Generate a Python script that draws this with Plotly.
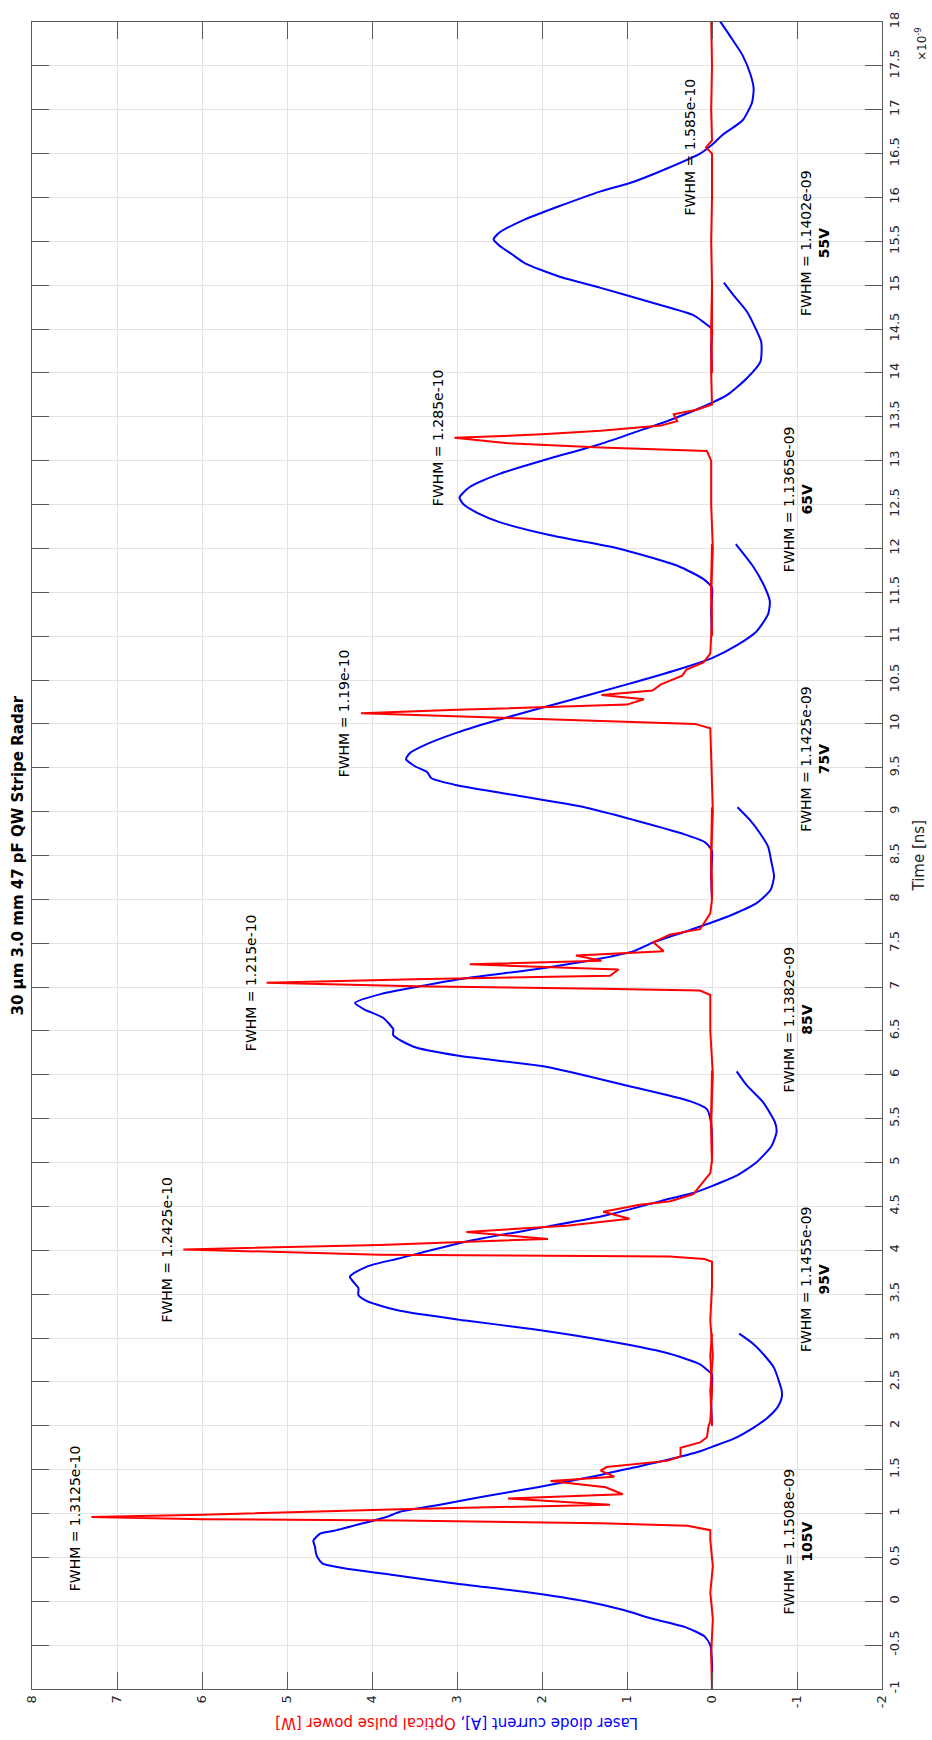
import plotly.graph_objects as go

# ---------------- data (time in ns, value in A / W) ----------------
blue_t_105 = [-1.0, -0.7, -0.5, -0.4, -0.3, -0.2, -0.1, 0.0, 0.1, 0.2, 0.3, 0.38, 0.43, 0.5, 0.55, 0.62, 0.69, 0.77, 0.8, 0.88, 0.96, 1.02, 1.1, 1.2, 1.3, 1.44, 1.525, 1.61, 1.71, 1.76, 1.85, 1.98, 2.09, 2.21, 2.32, 2.40, 2.47, 2.66, 2.81, 2.93, 3.05]
blue_v_105 = [0.0, 0.0, 0.02, 0.09, 0.3, 0.7, 1.04, 1.49, 2.15, 3.0, 3.75, 4.35, 4.58, 4.64, 4.66, 4.67, 4.69, 4.61, 4.46, 4.14, 3.83, 3.67, 3.2, 2.65, 2.05, 1.31, 0.92, 0.53, 0.14, 0.0, -0.25, -0.49, -0.65, -0.77, -0.82, -0.82, -0.80, -0.73, -0.61, -0.49, -0.32]

blue_t_95 = [2.0, 2.3, 2.585, 2.64, 2.70, 2.77, 2.83, 2.98, 3.1, 3.2, 3.31, 3.42, 3.49, 3.57, 3.70, 3.815, 3.91, 4.10, 4.27, 4.40, 4.59, 4.66, 4.74, 4.85, 5.0, 5.19, 5.35, 5.46, 5.69, 5.88, 6.04]
blue_v_95 = [0.0, 0.01, 0.0, 0.06, 0.14, 0.33, 0.53, 1.31, 2.1, 2.9, 3.67, 4.06, 4.16, 4.16, 4.26, 4.06, 3.67, 2.89, 1.94, 1.24, 0.49, 0.2, -0.02, -0.29, -0.52, -0.70, -0.76, -0.74, -0.60, -0.41, -0.29]

blue_t_85 = [5.0, 5.3, 5.5, 5.61, 5.70, 5.87, 6.09, 6.22, 6.32, 6.45, 6.52, 6.65, 6.75, 6.82, 6.92, 7.1, 7.2, 7.325, 7.41, 7.51, 7.64, 7.73, 7.83, 7.96, 8.11, 8.26, 8.42, 8.6, 8.76, 8.9, 9.05]
blue_v_85 = [0.0, 0.0, 0.02, 0.06, 0.26, 0.97, 1.94, 3.0, 3.51, 3.75, 3.75, 3.87, 4.1, 4.2, 3.9, 2.9, 2.1, 1.31, 0.92, 0.69, 0.29, 0.02, -0.25, -0.53, -0.69, -0.73, -0.70, -0.66, -0.56, -0.45, -0.3]

blue_t_75 = [8.0, 8.3, 8.55, 8.65, 8.75, 8.9, 9.05, 9.2, 9.3, 9.38, 9.45, 9.52, 9.6, 9.67, 9.75, 9.9, 10.05, 10.25, 10.45, 10.62, 10.75, 10.9, 11.05, 11.25, 11.4, 11.6, 11.8, 12.05]
blue_v_75 = [0.0, 0.01, 0.0, 0.08, 0.35, 0.9, 1.5, 2.4, 3.0, 3.3, 3.35, 3.5, 3.6, 3.55, 3.4, 3.0, 2.5, 1.75, 1.0, 0.4, 0.0, -0.3, -0.52, -0.66, -0.68, -0.6, -0.48, -0.28]

blue_t_65 = [11.0, 11.3, 11.55, 11.65, 11.8, 12.0, 12.15, 12.3, 12.4, 12.5, 12.58, 12.7, 12.85, 13.0, 13.19, 13.32, 13.45, 13.6, 13.75, 13.94, 14.13, 14.35, 14.47, 14.7, 14.89, 15.03]
blue_v_65 = [0.0, 0.01, 0.0, 0.1, 0.4, 1.1, 1.9, 2.5, 2.75, 2.92, 2.97, 2.85, 2.5, 2.0, 1.31, 0.92, 0.53, 0.14, -0.18, -0.41, -0.57, -0.58, -0.53, -0.41, -0.25, -0.14]

blue_t_55 = [14.0, 14.3, 14.5, 14.55, 14.66, 14.8, 14.97, 15.1, 15.25, 15.35, 15.45, 15.52, 15.6, 15.75, 15.9, 16.07, 16.18, 16.33, 16.5, 16.6, 16.71, 16.88, 17.08, 17.24, 17.41, 17.62, 17.8, 18.0, 18.05]
blue_v_55 = [0.0, 0.01, 0.0, 0.06, 0.22, 0.7, 1.31, 1.8, 2.2, 2.35, 2.5, 2.57, 2.5, 2.2, 1.8, 1.31, 0.92, 0.53, 0.14, 0.0, -0.12, -0.36, -0.47, -0.49, -0.45, -0.36, -0.24, -0.1, -0.05]

red_t_105 = [-1.0, -0.6, -0.2, 0.1, 0.4, 0.7, 0.81, 0.86, 0.89, 0.92, 0.935, 0.96, 0.985, 1.05, 1.1, 1.17, 1.22, 1.3, 1.37, 1.42, 1.49, 1.53, 1.60, 1.65, 1.75, 1.81, 1.87, 2.0, 2.05, 2.4, 2.8, 3.05]
red_v_105 = [0.0, 0.01, -0.01, 0.02, -0.01, 0.02, 0.02, 0.29, 1.31, 3.67, 6.0, 7.3, 6.0, 3.67, 1.2, 2.4, 1.05, 1.25, 1.9, 1.15, 1.31, 1.24, 0.53, 0.37, 0.37, 0.14, 0.06, 0.04, 0.02, 0.0, 0.02, 0.0]

red_t_95 = [2.0, 2.4, 2.8, 3.2, 3.6, 3.87, 3.9, 3.93, 3.95, 4.01, 4.06, 4.13, 4.21, 4.28, 4.36, 4.44, 4.52, 4.56, 4.64, 4.71, 4.88, 5.03, 5.5, 6.05]
red_v_95 = [0.0, 0.02, -0.01, 0.02, 0.0, 0.0, 0.09, 0.5, 3.91, 6.22, 3.91, 1.93, 2.89, 1.71, 0.97, 1.28, 0.85, 0.49, 0.22, 0.16, 0.02, 0.0, 0.01, 0.0]

red_t_85 = [5.0, 5.5, 6.0, 6.5, 6.91, 6.96, 6.98, 7.01, 7.05, 7.09, 7.13, 7.2, 7.26, 7.3, 7.36, 7.41, 7.51, 7.60, 7.66, 7.84, 8.0, 8.5, 9.05]
red_v_85 = [0.0, 0.01, -0.01, 0.02, 0.02, 0.14, 1.31, 3.5, 5.24, 3.5, 1.2, 1.1, 2.85, 1.3, 1.6, 0.57, 0.69, 0.49, 0.14, 0.02, 0.0, 0.01, 0.0]

red_t_75 = [8.0, 8.5, 9.0, 9.5, 9.95, 10.0, 10.04, 10.08, 10.12, 10.16, 10.22, 10.28, 10.33, 10.38, 10.45, 10.55, 10.62, 10.7, 10.8, 11.2, 11.6, 12.05]
red_v_75 = [0.0, 0.01, -0.01, 0.01, 0.02, 0.2, 1.5, 3.0, 4.13, 3.0, 1.0, 0.8, 1.3, 0.7, 0.6, 0.35, 0.3, 0.1, 0.02, 0.0, 0.01, 0.0]

red_t_65 = [11.0, 11.5, 12.0, 12.5, 13.0, 13.11, 13.15, 13.2, 13.26, 13.3, 13.34, 13.4, 13.45, 13.53, 13.58, 13.64, 14.0, 14.5, 15.05]
red_v_65 = [0.0, 0.01, -0.01, 0.01, 0.01, 0.06, 1.31, 2.4, 3.03, 2.0, 1.31, 0.6, 0.41, 0.45, 0.18, 0.0, 0.01, 0.0, 0.0]

red_t_55 = [14.0, 14.5, 15.0, 15.5, 16.0, 16.5, 16.57, 16.65, 17.0, 17.5, 18.05]
red_v_55 = [0.0, 0.01, 0.0, 0.01, 0.0, 0.0, 0.07, 0.0, 0.01, 0.0, 0.01]

# annotation data
red_fwhm_labels = ["FWHM = 1.3125e-10", "FWHM = 1.2425e-10", "FWHM = 1.215e-10", "FWHM = 1.19e-10", "FWHM = 1.285e-10", "FWHM = 1.585e-10"]
red_label_t = [0.95, 4.01, 7.05, 10.12, 13.26, 16.58]
red_label_v = [7.49, 6.41, 5.43, 4.33, 3.22, 0.26]

blue_fwhm_labels = ["FWHM = 1.1508e-09", "FWHM = 1.1455e-09", "FWHM = 1.1382e-09", "FWHM = 1.1425e-09", "FWHM = 1.1365e-09", "FWHM = 1.1402e-09"]
voltage_labels = ["105V", "95V", "85V", "75V", "65V", "55V"]
blue_label_t = [0.68, 3.67, 6.63, 9.6, 12.56, 15.48]
blue_label_v = [-1.01, -1.21, -1.01, -1.21, -1.01, -1.21]

time_ticks = [x * 0.5 for x in range(-2, 37)]
value_ticks = list(range(-2, 9))

title_text = "30 µm 3.0 mm 47 pF QW Stripe Radar"

# ---------------- figure ----------------
FONT = "DejaVu Sans"
fig = go.Figure()

blue_sets = [(blue_t_105, blue_v_105), (blue_t_95, blue_v_95), (blue_t_85, blue_v_85),
             (blue_t_75, blue_v_75), (blue_t_65, blue_v_65), (blue_t_55, blue_v_55)]
red_sets = [(red_t_105, red_v_105), (red_t_95, red_v_95), (red_t_85, red_v_85),
            (red_t_75, red_v_75), (red_t_65, red_v_65), (red_t_55, red_v_55)]

for t, v in blue_sets:
    fig.add_trace(go.Scatter(x=v, y=t, mode="lines", line=dict(color="#0000ff", width=2, shape="spline", smoothing=0.6),
                             showlegend=False))
for t, v in red_sets:
    fig.add_trace(go.Scatter(x=v, y=t, mode="lines", line=dict(color="#ff0000", width=2), showlegend=False))

for txt, t, v in zip(red_fwhm_labels, red_label_t, red_label_v):
    fig.add_annotation(x=v, y=t, xref="x", yref="y", text=txt, textangle=-90, showarrow=False,
                       xanchor="center", yanchor="middle",
                       font=dict(family=FONT, size=14, color="#000000"))

for txt, volt, t, v in zip(blue_fwhm_labels, voltage_labels, blue_label_t, blue_label_v):
    fig.add_annotation(x=v, y=t, xref="x", yref="y", text=txt + "<br><b>" + volt + "</b>", textangle=-90,
                       showarrow=False, align="center", xanchor="center", yanchor="middle",
                       font=dict(family=FONT, size=14, color="#000000"))

# axis titles, multiplier and title (rotated like the reference)
fig.add_annotation(x=0.5, y=0, xref="paper", yref="paper", yshift=-34, xanchor="center", yanchor="middle",
                   showarrow=False, textangle=180,
                   text='<span style="color:#0000ff">Laser diode current [A],</span> <span style="color:#ff0000">Optical pulse power [W]</span>',
                   font=dict(family=FONT, size=15))
fig.add_annotation(x=1.0, y=0.5, xref="paper", yref="paper", xshift=36, xanchor="center", yanchor="middle",
                   showarrow=False, textangle=-90,
                   text="Time [ns]", font=dict(family=FONT, size=15, color="#262626"))
fig.add_annotation(x=1.0, y=1.0, xref="paper", yref="paper", xshift=39, yshift=-22, xanchor="center",
                   yanchor="middle", showarrow=False, textangle=-90,
                   text="×10<sup>-9</sup>", font=dict(family=FONT, size=12, color="#262626"))
fig.add_annotation(x=0.0, y=0.5, xref="paper", yref="paper", xshift=-15, xanchor="center", yanchor="middle",
                   showarrow=False, textangle=-90,
                   text="<b>" + title_text + "</b>", font=dict(family=FONT, size=15, color="#000000"))

axis_common = dict(showline=True, linecolor="#5a5a5a", linewidth=1, mirror="ticks", ticks="inside",
                   ticklen=17, tickcolor="#5a5a5a", showgrid=True, gridcolor="#e3e3e3", gridwidth=1,
                   zeroline=False, tickfont=dict(family=FONT, size=13, color="#262626"))

fig.update_xaxes(range=[8, -2], tickvals=value_ticks, ticktext=[str(v) for v in value_ticks],
                 tickangle=-90, **axis_common)
fig.update_yaxes(range=[-1, 18], side="right", tickvals=time_ticks,
                 ticktext=[("%g" % v) for v in time_ticks], tickangle=-90, **axis_common)

fig.update_layout(width=932, height=1740, margin=dict(l=32, r=50, t=16, b=51),
                  plot_bgcolor="white", paper_bgcolor="white", showlegend=False)

fig.write_html("out.html")
